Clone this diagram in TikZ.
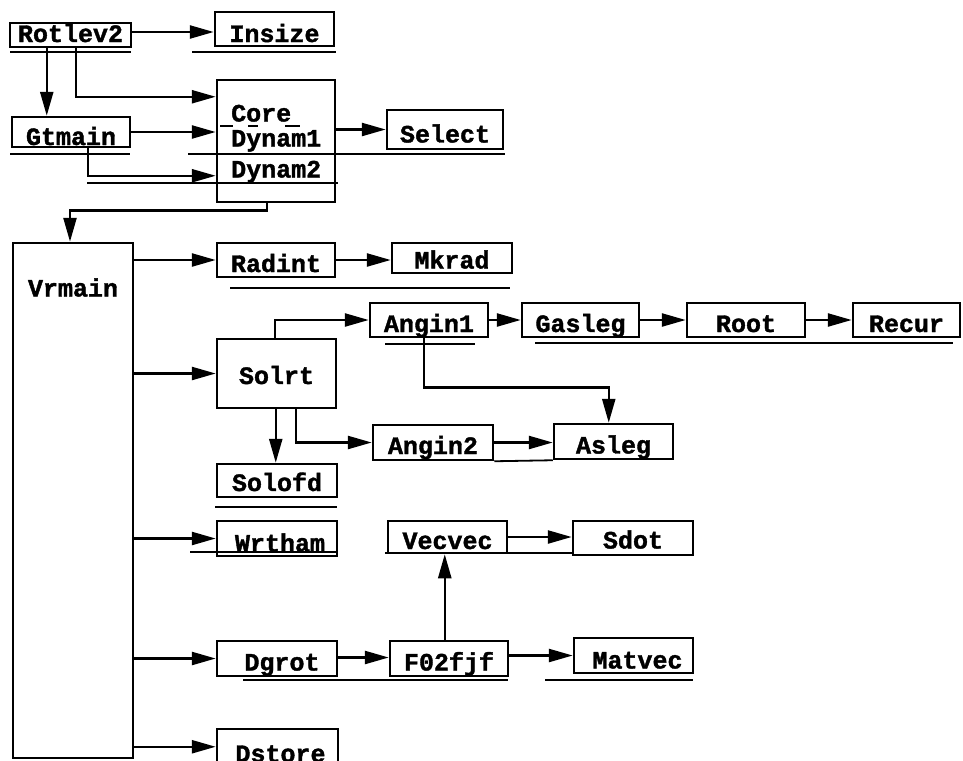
\documentclass[tikz,border=0pt]{standalone}
\usepackage{fontspec}
\newfontfamily\cf{Liberation Mono}[BoldFeatures={FakeBold=1.5}]
\usetikzlibrary{arrows.meta}
\tikzset{
 box/.style={draw, line width=2.5pt, inner sep=0pt, text depth=0pt, font=\cf\bfseries\fontsize{25}{25}\selectfont},
 txt/.style={inner sep=0pt, text height=17pt, text depth=0pt, font=\cf\bfseries\fontsize{25}{25}\selectfont},
 arr/.style={line width=2.5pt, -{Triangle[length=24pt,width=13pt]}},
 uline/.style={line width=1.8pt}
}
% \bx{name}{x1}{y1}{x2}{y2}{text height}{text}
\newcommand\bx[7]{\node[box,text height=#6pt,minimum width={(#4)-(#2)},minimum height={(#5)-(#3)}] (#1) at ({((#2)+(#4))/2},{((#3)+(#5))/2}) {#7};}
\begin{document}
\begin{tikzpicture}[x=1pt,y=-1pt]
\useasboundingbox (0,0) rectangle (963,760);
\clip (0,0) rectangle (963,760);
% boxes
\bx{rot}{10}{23}{131}{47}{14}{Rotlev2}
\bx{ins}{215}{12}{334}{46}{26}{Insize}
\bx{gt}{12}{117}{130}{147}{26}{Gtmain}
\bx{core}{217}{80}{335}{202}{17}{}
\node[txt,anchor=west] (coreT) at (231,113) {Core};
\node[txt,anchor=west] (dyn1) at (231,138) {Dynam1};
\node[txt,anchor=west] (dyn2) at (231,169) {Dynam2};
\bx{sel}{387}{110}{503}{149}{26}{Select}
\bx{vr}{13}{243}{133}{758}{17}{}
\node[txt] (vrt) at (73,288) {Vrmain};
\bx{rad}{217}{243}{335}{277}{24}{Radint}
\bx{mk}{392}{243}{512}{273}{21}{Mkrad}
\bx{sol}{217}{339}{336}{408}{21}{Solrt}
\bx{an1}{370}{303}{488}{337}{24}{Angin1}
\bx{gas}{522}{303}{639}{337}{24}{Gasleg}
\bx{root}{687}{303}{805}{337}{24}{Root}
\bx{rec}{853}{303}{960}{337}{24}{Recur}
\bx{an2}{373}{425}{493}{460}{23}{Angin2}
\bx{asl}{554}{424}{673}{459}{24}{Asleg}
\bx{sfd}{217}{464}{337}{497}{21}{Solofd}
\bx{wrt}{217}{521}{337}{556}{26}{\hspace*{6pt}Wrtham}
\bx{vec}{388}{521}{507}{553}{24}{Vecvec}
\bx{sdot}{573}{521}{693}{555}{21}{Sdot}
\bx{dg}{217}{641}{337}{676}{24}{\hspace*{10pt}Dgrot}
\bx{f02}{390}{641}{508}{676}{24}{F02fjf}
\bx{mat}{574}{638}{693}{673}{26}{\hspace*{8pt}Matvec}
\bx{dst}{217}{729}{338}{772}{23}{\hspace*{6pt}Dstore}
% dashes under "Core"
\draw[uline] (220,126) -- (233,126) (248,126) -- (258,126) (285,126) -- (300,126);
% connectors
\draw[arr] ([yshift=3pt]rot.east) -- ([yshift=3pt]rot.east -| ins.west);
\draw[arr] ([xshift=38pt]rot.south west) -- ([xshift=38pt]rot.south west |- gt.north);
\draw[arr] ([xshift=67pt]rot.south west) |- ([yshift=-18pt]core.north west);
\draw[arr] (gt.east) -- (gt.east -| core.west);
\draw[arr] ([xshift=77pt]gt.south west) |- ([yshift=-97pt]core.north west);
\draw[arr] (sel.west -| core.east) -- (sel.west);
\draw[arr] ([xshift=51pt]core.south west) -- ++(0,7) -| ([xshift=-3pt]vr.north);
\draw[arr] (vr.east |- rad.west) -- (rad.west);
\draw[arr] (rad.east) -- (rad.east -| mk.west);
\draw[arr] (vr.east |- sol.west) -- (sol.west);
\draw[arr] ([xshift=59pt]sol.north west) |- (an1.west);
\draw[arr] (an1.east) -- (gas.west);
\draw[arr] (gas.east) -- (root.west);
\draw[arr] (root.east) -- (rec.west);
\draw[arr] ([xshift=55pt]an1.south west) -- ++(0,49) -| ([xshift=56pt]asl.north west);
\draw[arr] ([xshift=60pt]sol.south west) -- ([xshift=60pt]sol.south west |- sfd.north);
\draw[arr] ([xshift=80pt]sol.south west) |- (an2.west);
\draw[arr] (an2.east) -- (an2.east -| asl.west);
\draw[arr] (vr.east |- wrt.west) -- (wrt.west);
\draw[arr] (vec.east) -- (vec.east -| sdot.west);
\draw[arr] (vr.east |- dg.west) -- (dg.west);
\draw[arr] ([yshift=1pt]dg.east) -- ([yshift=1pt]dg.east -| f02.west);
\draw[arr] ([xshift=56pt]f02.north west) -- ([xshift=56pt]f02.north west |- vec.south);
\draw[arr] ([yshift=3pt]f02.east) -- ([yshift=3pt]f02.east -| mat.west);
\draw[arr] ([yshift=-19pt]dst.north west -| vr.east) -- ([yshift=-19pt]dst.north west);
% scan underlines
\draw[uline] (10,52) -- (131,52);
\draw[uline] (192,52) -- (336,52);
\draw[uline] (10,154) -- (130,154);
\draw[uline] (188,154) -- (505,154);
\draw[uline] (87,183) -- (338,183);
\draw[uline] (230,288) -- (510,288);
\draw[uline] (385,344) -- (475,344);
\draw[uline] (535,343) -- (953,343);
\draw[uline] (an2.south east) -- (asl.south west);
\draw[uline] (215,507) -- (337,507);
\draw[uline] (190,552) -- (337,552);
\draw[uline] (385,553) -- (573,553);
\draw[uline] (243,680) -- (508,680);
\draw[uline] (545,680) -- (693,680);
\end{tikzpicture}
\end{document}
